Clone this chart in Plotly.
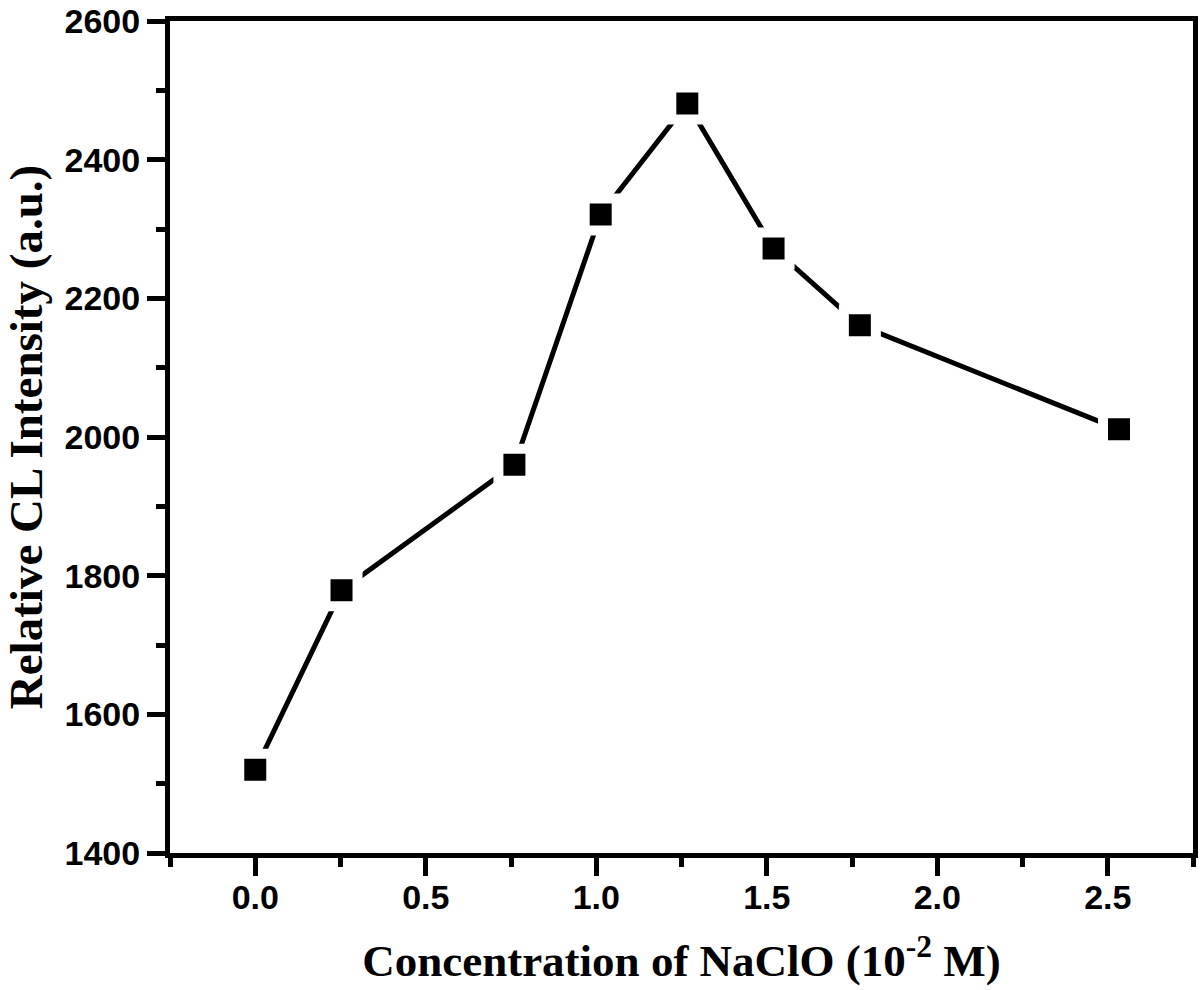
import plotly.graph_objects as go

# NaClO concentration (10^-2 M) vs relative CL intensity
conc = [0.0, 0.253, 0.76, 1.013, 1.267, 1.52, 1.773, 2.533]
intensity = [1520, 1779, 1960, 2321, 2481, 2272, 2161, 2011]

x_ticks = [0.0, 0.5, 1.0, 1.5, 2.0, 2.5]
y_ticks = [1400, 1600, 1800, 2000, 2200, 2400, 2600]

tick_font = dict(family="Liberation Sans, Arial", size=34, color="black", weight="bold")
xtitle_font = dict(family="Liberation Serif, Times New Roman", size=45, color="black", weight="bold")
ytitle_font = dict(family="Liberation Serif, Times New Roman", size=47, color="black", weight="bold")

trace = go.Scatter(
    x=conc,
    y=intensity,
    mode="lines+markers",
    line=dict(color="black", width=5),
    marker=dict(symbol="square", size=32, color="black",
                line=dict(color="white", width=10)),
    showlegend=False,
)

fig = go.Figure(data=[trace])

axis_common = dict(
    showline=True,
    linecolor="black",
    linewidth=5,
    mirror=True,
    showgrid=False,
    zeroline=False,
    automargin=False,
    ticks="outside",
    ticklen=18,
    tickwidth=5,
    tickcolor="black",
    tickfont=tick_font,
    ticklabeloverflow="allow",
)

fig.update_layout(
    width=1200,
    height=990,
    plot_bgcolor="white",
    paper_bgcolor="white",
    margin=dict(l=170, r=7, t=21, b=137),
    xaxis=dict(
        range=[-0.25, 2.75],
        tickvals=x_ticks,
        ticktext=["%.1f" % v for v in x_ticks],
        ticklabelstandoff=-8,
        minor=dict(dtick=0.25, tick0=0, ticks="outside", ticklen=9, tickwidth=5, tickcolor="black"),
        title=dict(text="Concentration of NaClO (10<sup>-2</sup> M)", font=xtitle_font, standoff=31),
        **axis_common,
    ),
    yaxis=dict(
        range=[1400, 2600],
        tickvals=y_ticks,
        minor=dict(dtick=100, tick0=1400, ticks="outside", ticklen=9, tickwidth=5, tickcolor="black"),
        title=dict(text="Relative CL Intensity (a.u.)", font=ytitle_font, standoff=15),
        **axis_common,
    ),
)

# drop the default body margin so the figure fills the window exactly
fig.write_html("out.html", config={"displayModeBar": False},
               post_script="document.body.style.margin='0';")
